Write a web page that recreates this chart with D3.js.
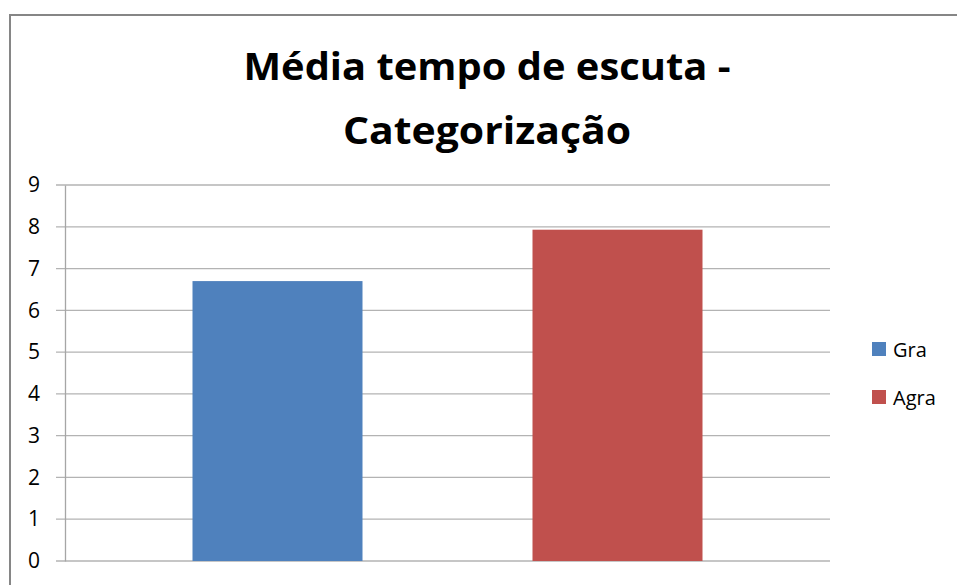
<!DOCTYPE html>
<html>
<head>
<meta charset="utf-8">
<script src="https://cdn.jsdelivr.net/npm/d3@7"></script>
<style>
  html, body { margin: 0; padding: 0; background: #fff; }
  svg { display: block; }
</style>
</head>
<body>
<svg id="chart" width="957" height="585"></svg>
<script>
const titleLines = ["Média tempo de escuta -", "Categorização"];
const series = ["Gra", "Agra"];
const values = [6.7, 7.93];
const colors = ["#4F81BD", "#C0504D"];
const yTicks = [0, 1, 2, 3, 4, 5, 6, 7, 8, 9];

const W = 957, H = 585;
const plotLeft = 65, plotRight = 830, plotTop = 185, plotBottom = 561;
const font = "'Open Sans', 'Noto Sans', sans-serif";

const svg = d3.select("#chart");

// outer chart frame (runs off the right and bottom edges)
svg.append("rect")
    .attr("x", 10).attr("y", 15)
    .attr("width", W + 20).attr("height", H + 20)
    .attr("fill", "#fff")
    .attr("stroke", "#868686")
    .attr("stroke-width", 2);

const y = d3.scaleLinear().domain([0, 9]).range([plotBottom, plotTop]);
const x = d3.scaleBand().domain(series).range([plotLeft, plotRight])
    .paddingInner(0.5).paddingOuter(0.375);

// gridlines
svg.append("g")
    .selectAll("line")
    .data(yTicks)
    .join("line")
    .attr("x1", plotLeft - 9).attr("x2", plotRight)
    .attr("y1", d => y(d)).attr("y2", d => y(d))
    .attr("stroke", "#b3b3b3")
    .attr("stroke-width", 1.3);

// bars
svg.append("g")
    .selectAll("rect")
    .data(values)
    .join("rect")
    .attr("x", (d, i) => x(series[i]))
    .attr("y", d => y(d))
    .attr("width", x.bandwidth())
    .attr("height", d => y(0) - y(d))
    .attr("fill", (d, i) => colors[i]);

// y axis
const yAxis = svg.append("g")
    .attr("transform", `translate(${plotLeft},0)`)
    .call(d3.axisLeft(y).tickValues(yTicks).tickSize(0).tickPadding(25).tickFormat(d3.format("d")));
yAxis.select(".domain").attr("stroke", "#a6a6a6").attr("stroke-width", 1.3);
yAxis.selectAll("text")
    .attr("font-family", font)
    .attr("font-size", 21)
    .attr("fill", "#000");

// title: Calibri-like proportions, squeezed to the reference widths
const titleWidths = [487, 288];
svg.append("g")
    .selectAll("text")
    .data(titleLines)
    .join("text")
    .attr("x", 487)
    .attr("y", (d, i) => 80 + i * 64)
    .attr("text-anchor", "middle")
    .attr("font-family", font)
    .attr("font-weight", "bold")
    .attr("font-size", 38)
    .attr("textLength", (d, i) => titleWidths[i])
    .attr("lengthAdjust", "spacingAndGlyphs")
    .attr("fill", "#000")
    .text(d => d);

// legend
const legend = svg.append("g")
    .selectAll("g")
    .data(series)
    .join("g")
    .attr("transform", (d, i) => `translate(872,${342 + i * 48})`);
legend.append("rect")
    .attr("width", 14).attr("height", 14)
    .attr("fill", (d, i) => colors[i]);
legend.append("text")
    .attr("x", 21).attr("y", 15)
    .attr("font-family", font)
    .attr("font-size", 20)
    .attr("fill", "#000")
    .text(d => d);
</script>
</body>
</html>
